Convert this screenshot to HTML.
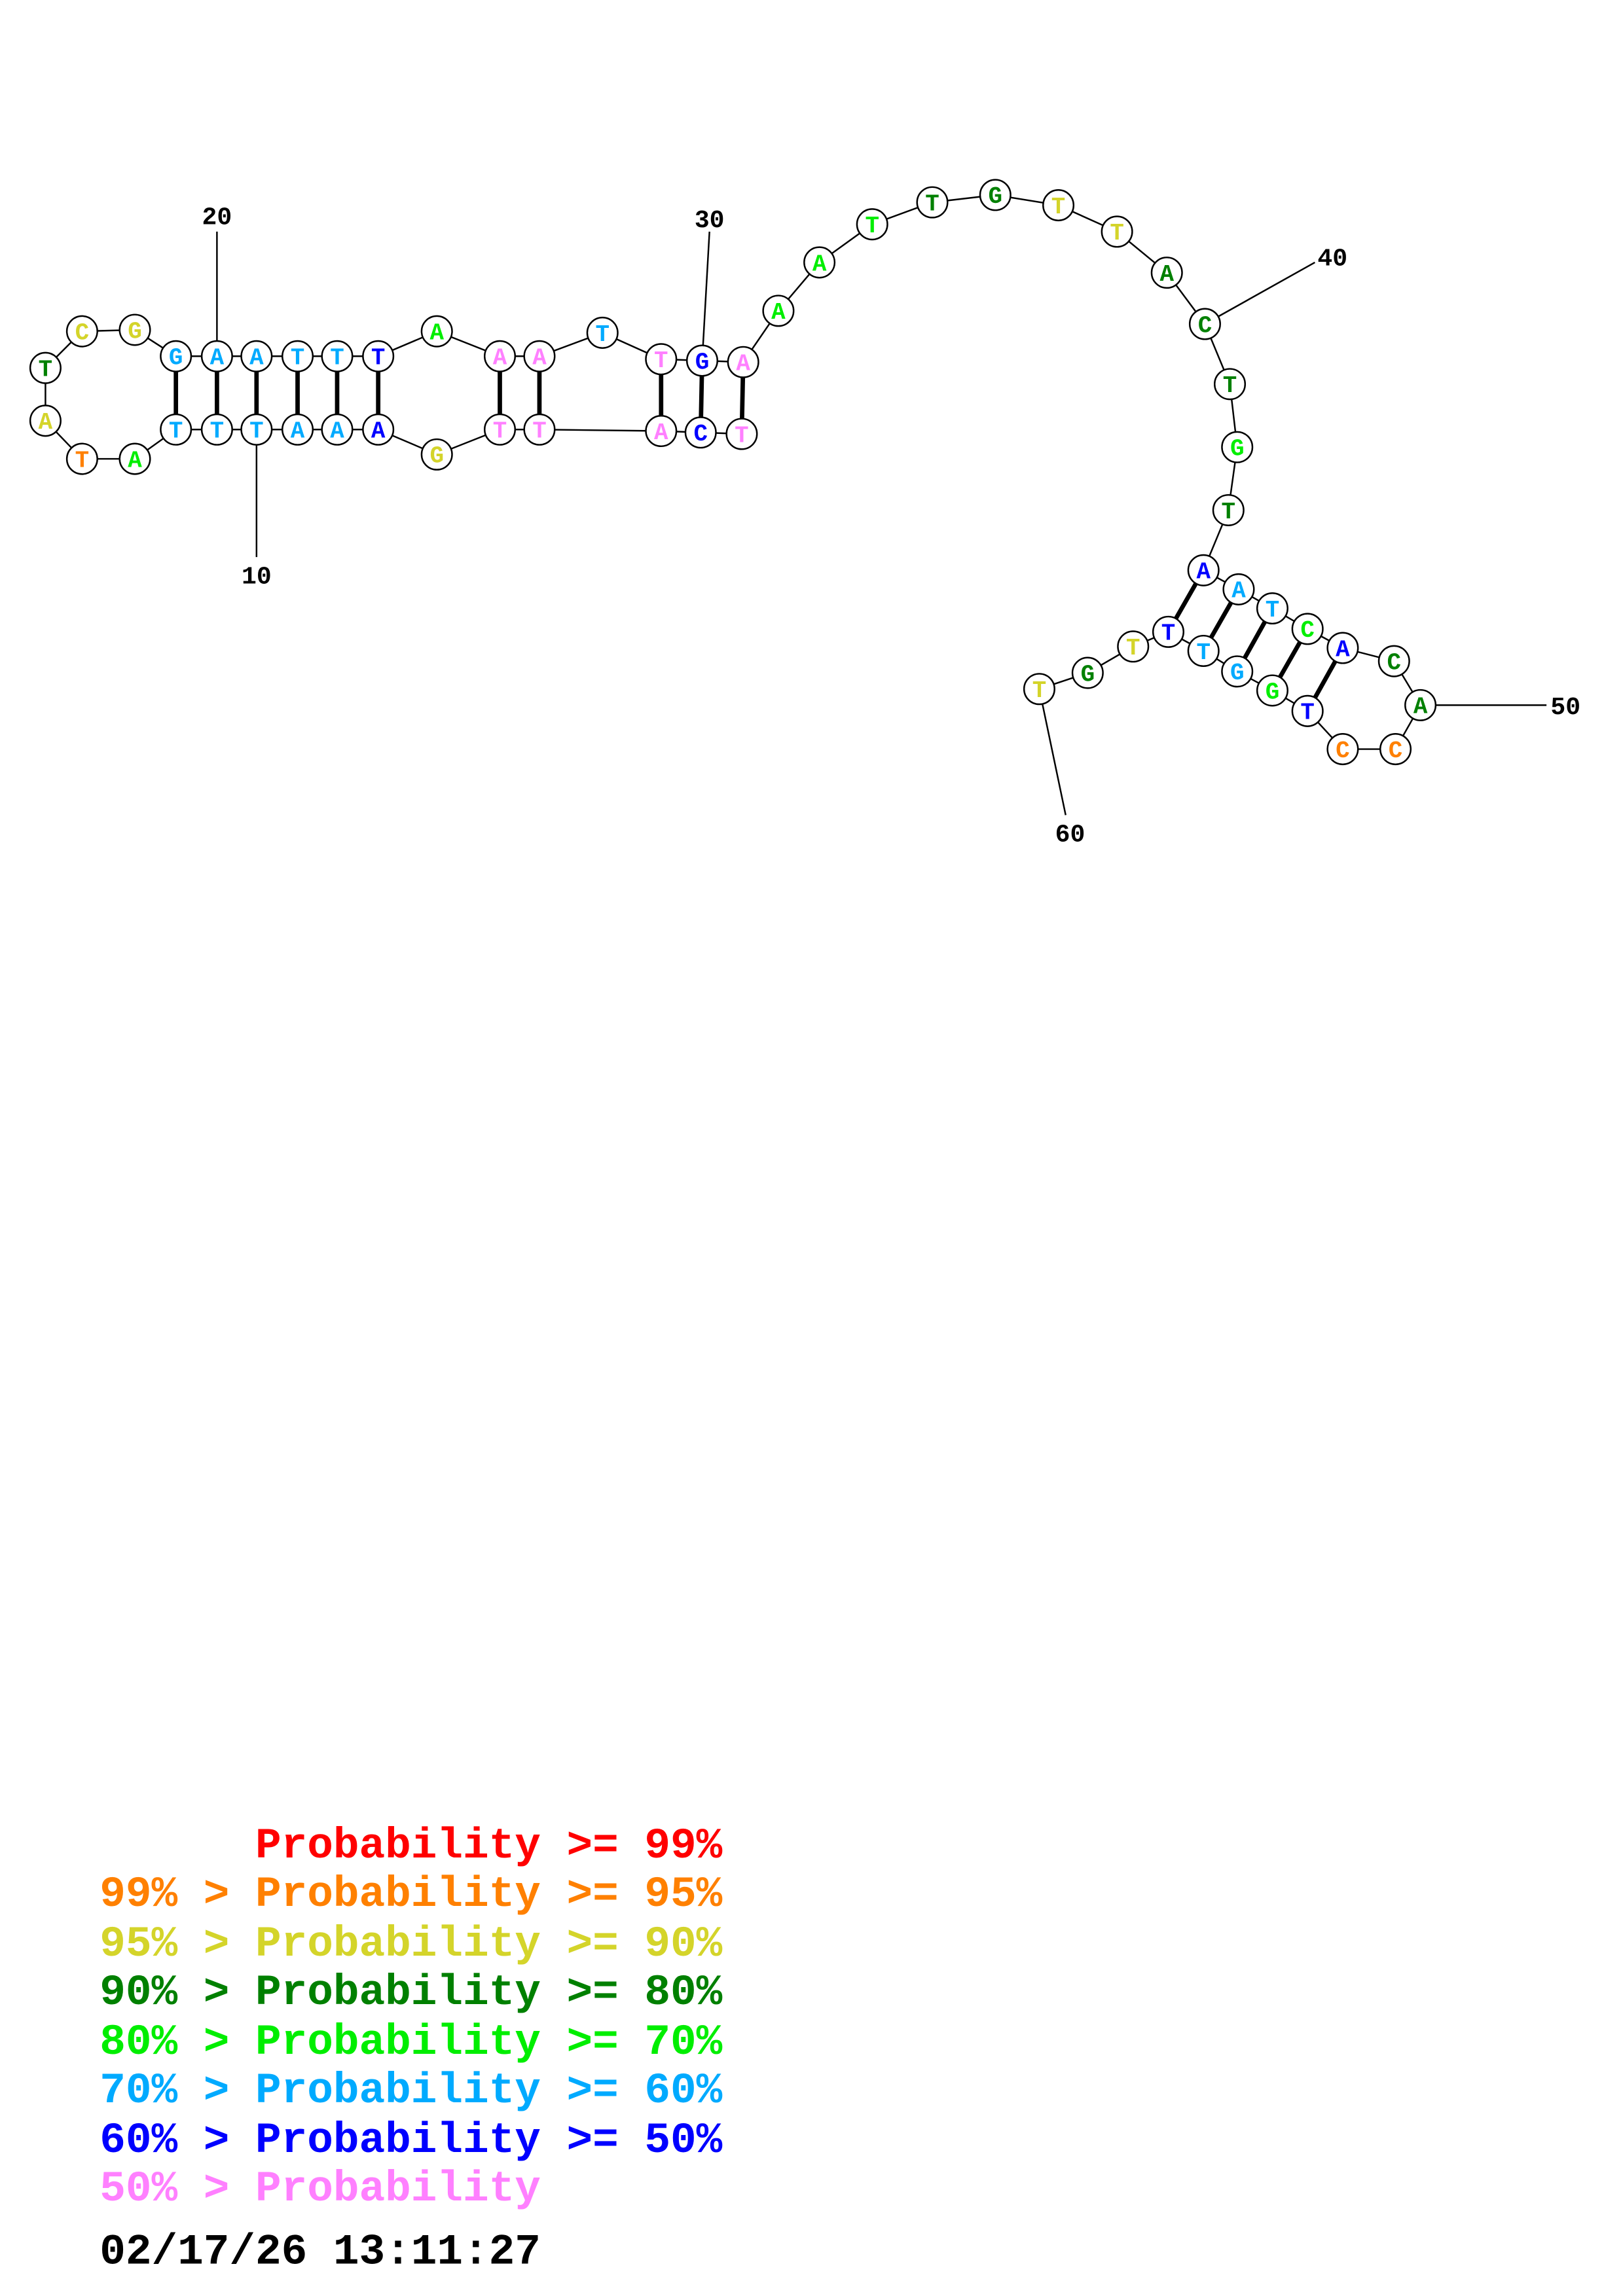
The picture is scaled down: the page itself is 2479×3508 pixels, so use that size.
<!DOCTYPE html>
<html><head><meta charset="utf-8"><style>
html,body{margin:0;padding:0;background:#fff}
svg{display:block}
.n circle{fill:#fff;stroke:#000;stroke-width:1.1}
.n text{font-family:"Liberation Mono",monospace;font-weight:bold;font-size:16px;text-anchor:middle}
.lg{font-family:"Liberation Mono",monospace;font-weight:bold;font-size:29.5px}
.num{font-family:"Liberation Mono",monospace;font-weight:bold;font-size:17px;text-anchor:middle}
</style></head><body>
<svg width="2479" height="3508" viewBox="0 0 1100 1556" preserveAspectRatio="none" xmlns="http://www.w3.org/2000/svg">
<g transform="scale(0.9935)">
<g stroke="#000" stroke-width="1.1" fill="none">
<line x1="148" y1="243" x2="148" y2="158"/>
<line x1="175" y1="293" x2="175" y2="380"/>
<line x1="479" y1="246" x2="484" y2="158"/>
<line x1="822" y1="221" x2="897" y2="179"/>
<line x1="969" y1="481" x2="1055" y2="481"/>
<line x1="709" y1="470" x2="727" y2="556"/>
<polyline points="506,296 478,295 451,294 368,293 341,293 298,310 258,293 230,293 203,293 175,293 148,293 120,293 92,313 56,313 31,287 31,251 56,226 92,225 120,243 148,243 175,243 203,243 230,243 258,243 298,226 341,243 368,243 411,227 451,245 479,246 507,247 531,212 559,179 595,153 636,138 679,133 722,140 762,158 796,186 822,221 839,262 844,305 838,348 821,389 845,402 868,415 892,429 916,442 951,451 969,481 952,511 916,511 892,485 868,471 844,458 821,444 797,431 773,441 742,459 709,470"/>
</g>
<g stroke="#000" stroke-width="3">
<line x1="120" y1="243" x2="120" y2="293"/><line x1="148" y1="243" x2="148" y2="293"/><line x1="175" y1="243" x2="175" y2="293"/><line x1="203" y1="243" x2="203" y2="293"/><line x1="230" y1="243" x2="230" y2="293"/><line x1="258" y1="243" x2="258" y2="293"/>
<line x1="341" y1="243" x2="341" y2="293"/><line x1="368" y1="243" x2="368" y2="293"/>
<line x1="451" y1="245" x2="451" y2="294"/><line x1="479" y1="246" x2="478" y2="295"/><line x1="507" y1="247" x2="506" y2="296"/>
<line x1="821" y1="389" x2="797" y2="431"/><line x1="845" y1="402" x2="821" y2="444"/><line x1="868" y1="415" x2="844" y2="458"/><line x1="892" y1="429" x2="868" y2="471"/><line x1="916" y1="442" x2="892" y2="485"/>
</g>
<g class="n">
<g transform="translate(506,296)"><circle r="10.4"/><text y="5.5" fill="#ff80ff">T</text></g>
<g transform="translate(478,295)"><circle r="10.4"/><text y="5.5" fill="#0000ff">C</text></g>
<g transform="translate(451,294)"><circle r="10.4"/><text y="5.5" fill="#ff80ff">A</text></g>
<g transform="translate(368,293)"><circle r="10.4"/><text y="5.5" fill="#ff80ff">T</text></g>
<g transform="translate(341,293)"><circle r="10.4"/><text y="5.5" fill="#ff80ff">T</text></g>
<g transform="translate(298,310)"><circle r="10.4"/><text y="5.5" fill="#d4d42a">G</text></g>
<g transform="translate(258,293)"><circle r="10.4"/><text y="5.5" fill="#0000ff">A</text></g>
<g transform="translate(230,293)"><circle r="10.4"/><text y="5.5" fill="#00aaff">A</text></g>
<g transform="translate(203,293)"><circle r="10.4"/><text y="5.5" fill="#00aaff">A</text></g>
<g transform="translate(175,293)"><circle r="10.4"/><text y="5.5" fill="#00aaff">T</text></g>
<g transform="translate(148,293)"><circle r="10.4"/><text y="5.5" fill="#00aaff">T</text></g>
<g transform="translate(120,293)"><circle r="10.4"/><text y="5.5" fill="#00aaff">T</text></g>
<g transform="translate(92,313)"><circle r="10.4"/><text y="5.5" fill="#00ee00">A</text></g>
<g transform="translate(56,313)"><circle r="10.4"/><text y="5.5" fill="#ff8000">T</text></g>
<g transform="translate(31,287)"><circle r="10.4"/><text y="5.5" fill="#d4d42a">A</text></g>
<g transform="translate(31,251)"><circle r="10.4"/><text y="5.5" fill="#008000">T</text></g>
<g transform="translate(56,226)"><circle r="10.4"/><text y="5.5" fill="#d4d42a">C</text></g>
<g transform="translate(92,225)"><circle r="10.4"/><text y="5.5" fill="#d4d42a">G</text></g>
<g transform="translate(120,243)"><circle r="10.4"/><text y="5.5" fill="#00aaff">G</text></g>
<g transform="translate(148,243)"><circle r="10.4"/><text y="5.5" fill="#00aaff">A</text></g>
<g transform="translate(175,243)"><circle r="10.4"/><text y="5.5" fill="#00aaff">A</text></g>
<g transform="translate(203,243)"><circle r="10.4"/><text y="5.5" fill="#00aaff">T</text></g>
<g transform="translate(230,243)"><circle r="10.4"/><text y="5.5" fill="#00aaff">T</text></g>
<g transform="translate(258,243)"><circle r="10.4"/><text y="5.5" fill="#0000ff">T</text></g>
<g transform="translate(298,226)"><circle r="10.4"/><text y="5.5" fill="#00ee00">A</text></g>
<g transform="translate(341,243)"><circle r="10.4"/><text y="5.5" fill="#ff80ff">A</text></g>
<g transform="translate(368,243)"><circle r="10.4"/><text y="5.5" fill="#ff80ff">A</text></g>
<g transform="translate(411,227)"><circle r="10.4"/><text y="5.5" fill="#00aaff">T</text></g>
<g transform="translate(451,245)"><circle r="10.4"/><text y="5.5" fill="#ff80ff">T</text></g>
<g transform="translate(479,246)"><circle r="10.4"/><text y="5.5" fill="#0000ff">G</text></g>
<g transform="translate(507,247)"><circle r="10.4"/><text y="5.5" fill="#ff80ff">A</text></g>
<g transform="translate(531,212)"><circle r="10.4"/><text y="5.5" fill="#00ee00">A</text></g>
<g transform="translate(559,179)"><circle r="10.4"/><text y="5.5" fill="#00ee00">A</text></g>
<g transform="translate(595,153)"><circle r="10.4"/><text y="5.5" fill="#00ee00">T</text></g>
<g transform="translate(636,138)"><circle r="10.4"/><text y="5.5" fill="#008000">T</text></g>
<g transform="translate(679,133)"><circle r="10.4"/><text y="5.5" fill="#008000">G</text></g>
<g transform="translate(722,140)"><circle r="10.4"/><text y="5.5" fill="#d4d42a">T</text></g>
<g transform="translate(762,158)"><circle r="10.4"/><text y="5.5" fill="#d4d42a">T</text></g>
<g transform="translate(796,186)"><circle r="10.4"/><text y="5.5" fill="#008000">A</text></g>
<g transform="translate(822,221)"><circle r="10.4"/><text y="5.5" fill="#008000">C</text></g>
<g transform="translate(839,262)"><circle r="10.4"/><text y="5.5" fill="#008000">T</text></g>
<g transform="translate(844,305)"><circle r="10.4"/><text y="5.5" fill="#00ee00">G</text></g>
<g transform="translate(838,348)"><circle r="10.4"/><text y="5.5" fill="#008000">T</text></g>
<g transform="translate(821,389)"><circle r="10.4"/><text y="5.5" fill="#0000ff">A</text></g>
<g transform="translate(845,402)"><circle r="10.4"/><text y="5.5" fill="#00aaff">A</text></g>
<g transform="translate(868,415)"><circle r="10.4"/><text y="5.5" fill="#00aaff">T</text></g>
<g transform="translate(892,429)"><circle r="10.4"/><text y="5.5" fill="#00ee00">C</text></g>
<g transform="translate(916,442)"><circle r="10.4"/><text y="5.5" fill="#0000ff">A</text></g>
<g transform="translate(951,451)"><circle r="10.4"/><text y="5.5" fill="#008000">C</text></g>
<g transform="translate(969,481)"><circle r="10.4"/><text y="5.5" fill="#008000">A</text></g>
<g transform="translate(952,511)"><circle r="10.4"/><text y="5.5" fill="#ff8000">C</text></g>
<g transform="translate(916,511)"><circle r="10.4"/><text y="5.5" fill="#ff8000">C</text></g>
<g transform="translate(892,485)"><circle r="10.4"/><text y="5.5" fill="#0000ff">T</text></g>
<g transform="translate(868,471)"><circle r="10.4"/><text y="5.5" fill="#00ee00">G</text></g>
<g transform="translate(844,458)"><circle r="10.4"/><text y="5.5" fill="#00aaff">G</text></g>
<g transform="translate(821,444)"><circle r="10.4"/><text y="5.5" fill="#00aaff">T</text></g>
<g transform="translate(797,431)"><circle r="10.4"/><text y="5.5" fill="#0000ff">T</text></g>
<g transform="translate(773,441)"><circle r="10.4"/><text y="5.5" fill="#d4d42a">T</text></g>
<g transform="translate(742,459)"><circle r="10.4"/><text y="5.5" fill="#008000">G</text></g>
<g transform="translate(709,470)"><circle r="10.4"/><text y="5.5" fill="#d4d42a">T</text></g>
</g>
<text class="num" x="148" y="153">20</text>
<text class="num" x="175" y="398">10</text>
<text class="num" x="484" y="155">30</text>
<text class="num" x="909" y="181">40</text>
<text class="num" x="1068" y="487">50</text>
<text class="num" x="730" y="574">60</text>
<g class="lg">
<text x="68" y="1267" fill="#ff0000" xml:space="preserve">      Probability &gt;= 99%</text>
<text x="68" y="1300" fill="#ff8000">99% &gt; Probability &gt;= 95%</text>
<text x="68" y="1334" fill="#d4d42a">95% &gt; Probability &gt;= 90%</text>
<text x="68" y="1367" fill="#008000">90% &gt; Probability &gt;= 80%</text>
<text x="68" y="1401" fill="#00ee00">80% &gt; Probability &gt;= 70%</text>
<text x="68" y="1434" fill="#00aaff">70% &gt; Probability &gt;= 60%</text>
<text x="68" y="1468" fill="#0000ff">60% &gt; Probability &gt;= 50%</text>
<text x="68" y="1501" fill="#ff80ff">50% &gt; Probability</text>
<text x="68" y="1544" fill="#000">02/17/26 13:11:27</text>
</g>
</g>
</svg>
</body></html>
